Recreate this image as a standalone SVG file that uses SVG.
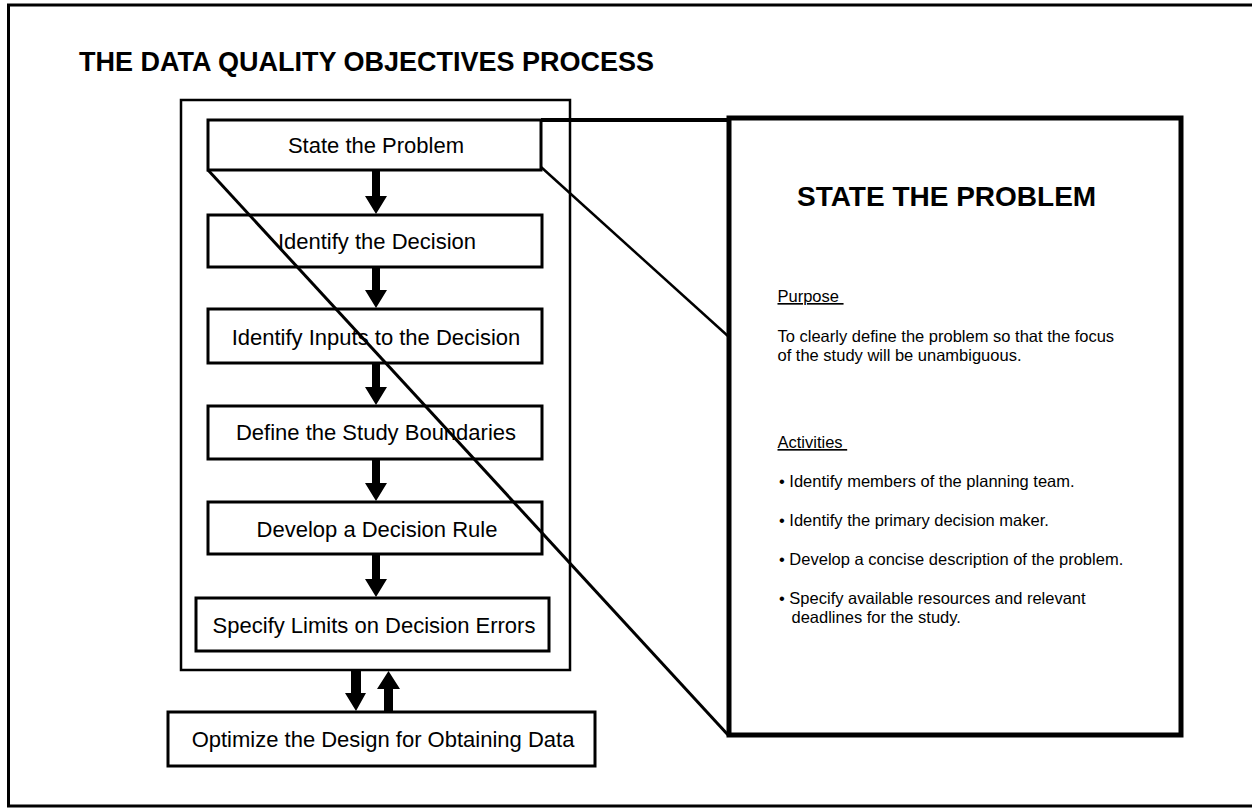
<svg xmlns="http://www.w3.org/2000/svg" width="1252" height="808" viewBox="0 0 1252 808">
<style>
text{font-family:"Liberation Sans",Arial,sans-serif;fill:#000}
.step{font-size:22px;text-anchor:middle}
.title{font-size:27px;font-weight:bold}
.ptitle{font-size:28px;font-weight:bold}
.body{font-size:16.5px}
.ul{text-decoration:underline;white-space:pre}
.box{fill:#fff;stroke:#000;stroke-width:3}
.arrow{fill:#000;stroke:none}
.line{fill:none;stroke:#000}
</style>
<rect width="1252" height="808" fill="#fff"/>
<path d="M1252,5 H8.5 V806 H1252" class="line" stroke-width="3"/>
<text class="title" x="79" y="71">THE DATA QUALITY OBJECTIVES PROCESS</text>

<g id="container"><rect x="181" y="100" width="389" height="570" fill="none" stroke="#000" stroke-width="2.5"/></g>

<g id="panel">
<rect x="729" y="118" width="452" height="617" fill="#fff" stroke="#000" stroke-width="5"/>
<text class="ptitle" x="797" y="206">STATE THE PROBLEM</text>
<text class="body ul" x="777.5" y="302">Purpose </text>
<text class="body" x="777.5" y="342">To clearly define the problem so that the focus</text>
<text class="body" x="777.5" y="361">of the study will be unambiguous.</text>
<text class="body ul" x="777.5" y="448">Activities </text>
<text class="body" x="779" y="487">• Identify members of the planning team.</text>
<text class="body" x="779" y="526">• Identify the primary decision maker.</text>
<text class="body" x="779" y="565">• Develop a concise description of the problem.</text>
<text class="body" x="779" y="604">• Specify available resources and relevant</text>
<text class="body" x="791.5" y="623">deadlines for the study.</text>
</g>

<g id="n1"><rect x="208" y="120" width="333" height="50" class="box" stroke-width="4"/><text class="step" x="376" y="153">State the Problem</text></g>
<g id="n2"><rect x="208" y="215" width="334" height="52" class="box"/><text class="step" x="377" y="249">Identify the Decision</text></g>
<g id="n3"><rect x="208" y="309" width="334" height="54" class="box"/><text class="step" x="376" y="345">Identify Inputs to the Decision</text></g>
<g id="n4"><rect x="208" y="406" width="334" height="53" class="box"/><text class="step" x="376" y="440">Define the Study Boundaries</text></g>
<g id="n5"><rect x="208" y="502" width="334" height="52" class="box"/><text class="step" x="377" y="537">Develop a Decision Rule</text></g>
<g id="n6"><rect x="196" y="598" width="353" height="53" class="box"/><text class="step" x="374" y="633">Specify Limits on Decision Errors</text></g>
<g id="n7"><rect x="168" y="712" width="427" height="54" class="box"/><text class="step" x="383" y="747">Optimize the Design for Obtaining Data</text></g>

<g id="connectors">
<polygon class="arrow" points="372,171 380,171 380,196 387,196 376,214 365,196 372,196"/>
<polygon class="arrow" points="372,268 380,268 380,290 387,290 376,308 365,290 372,290"/>
<polygon class="arrow" points="372,364 380,364 380,387 387,387 376,405 365,387 372,387"/>
<polygon class="arrow" points="372,460 380,460 380,483 387,483 376,501 365,483 372,483"/>
<polygon class="arrow" points="372,555 380,555 380,579 387,579 376,597 365,579 372,579"/>
<polygon class="arrow" points="351,671 361,671 361,693 366,693 356,711 345,693 351,693"/>
<polygon class="arrow" points="384,711 393,711 393,689 400,689 388.5,671 377,689 384,689"/>
<path class="line" stroke-width="4" d="M541,120 H729"/>
<path class="line" stroke-width="2.5" d="M541,167 L729,337"/>
<path class="line" stroke-width="3" d="M208,170 L729,736"/>
</g>
</svg>
